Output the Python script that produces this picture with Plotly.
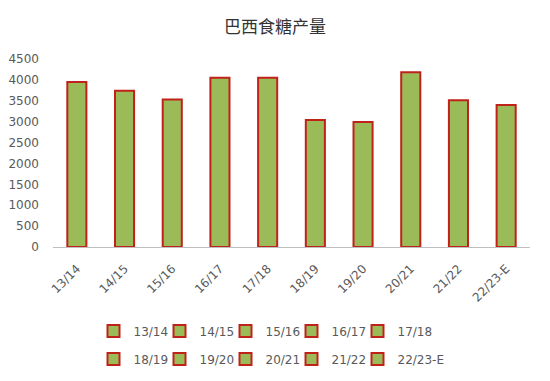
import plotly.graph_objects as go

categories = ["13/14", "14/15", "15/16", "16/17", "17/18", "18/19", "19/20", "20/21", "21/22", "22/23-E"]
production = [3950, 3740, 3530, 4050, 4050, 3040, 2990, 4180, 3515, 3400]
y_ticks = [0, 500, 1000, 1500, 2000, 2500, 3000, 3500, 4000, 4500]
title_text = "巴西食糖产量"

fill_color = "#9BBB59"
edge_color = "#C0221A"
text_color = "#595959"
tick_font = "DejaVu Sans, Liberation Sans, Arial"

fig = go.Figure()
for i, (c, v) in enumerate(zip(categories, production)):
    fig.add_trace(go.Bar(
        x=[c], y=[v], name=c,
        marker=dict(color=fill_color, line=dict(color=edge_color, width=2)),
        legend="legend" if i < 5 else "legend2",
        hoverinfo="x+y",
    ))

# invisible spacer entries so the last real legend label is not clipped
for lg in ["legend", "legend2"]:
    fig.add_trace(go.Bar(
        x=[None], y=[None], name=" ",
        marker=dict(color="rgba(0,0,0,0)", line=dict(width=0)),
        legend=lg, hoverinfo="skip", showlegend=True,
    ))

legend_common = dict(
    orientation="h",
    xref="container", yref="container",
    xanchor="left", yanchor="middle",
    font=dict(family=tick_font, size=12, color=text_color),
    bgcolor="rgba(0,0,0,0)",
    entrywidth=21,
    itemwidth=30,
    itemclick=False, itemdoubleclick=False,
)

fig.update_layout(
    width=550, height=381,
    margin=dict(l=53, r=20, t=59, b=134, autoexpand=False),
    paper_bgcolor="white", plot_bgcolor="white",
    title=dict(text=title_text, x=0.5, xanchor="center", y=0.929, yanchor="middle",
               font=dict(family="Noto Sans CJK SC", size=17, color="#333333")),
    barmode="overlay",
    bargap=0.6,
    xaxis=dict(
        categoryorder="array", categoryarray=categories,
        range=[-0.5, len(categories) - 0.5],
        showline=True, linecolor="#BFBFBF", linewidth=1,
        showgrid=False, ticks="", tickangle=-45, automargin=False,
        ticklabelstandoff=9,
        tickfont=dict(family=tick_font, size=12, color=text_color),
    ),
    yaxis=dict(
        range=[0, 4500], tickvals=y_ticks,
        showgrid=False, zeroline=False, showline=False, ticks="", automargin=False,
        ticklabelstandoff=13,
        tickfont=dict(family=tick_font, size=12, color=text_color),
    ),
    legend=dict(x=0.17, y=0.131, **legend_common),
    legend2=dict(x=0.17, y=0.058, **legend_common),
)

fig.write_html("out.html", config={"displayModeBar": False},
               post_script="document.body.style.margin='0';")
